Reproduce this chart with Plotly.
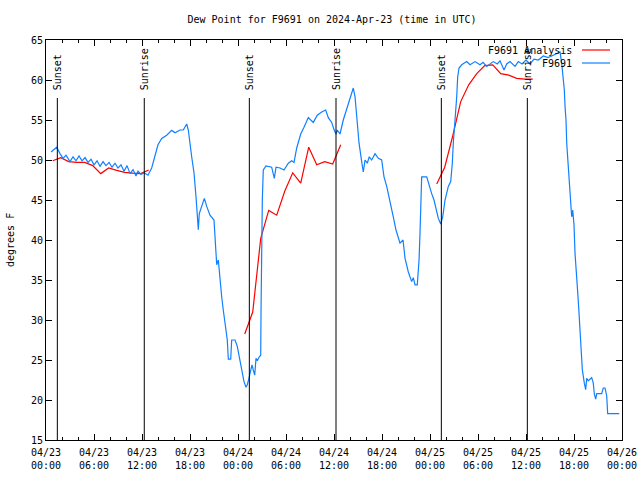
import pandas as pd
import plotly.graph_objects as go

BASE = pd.Timestamp("2024-04-23 00:00")

# F9691 observations (hours after 2024-04-23 00:00 UTC, dew point degF)
obs_hours = [0.63,1.34,1.75,2.13,2.5,3.0,3.38,3.75,4.13,4.5,4.88,5.25,5.63,6.0,6.38,6.75,7.13,7.5,7.88,8.25,
             8.63,9.0,9.38,9.75,10.13,10.5,10.88,11.25,11.5,11.88,12.25,12.75,13.21,13.63,14.0,14.46,15.09,15.71,
             16.13,16.75,17.16,17.59,17.79,18.21,18.5,18.75,18.91,19.04,19.16,19.46,19.79,20.09,20.5,21.0,21.25,
             21.34,21.54,21.75,21.96,22.16,22.46,22.66,22.79,23.09,23.21,23.63,23.91,24.25,24.46,24.75,25.0,25.16,
             25.34,25.5,25.75,25.91,26.09,26.25,26.41,26.66,26.84,26.88,26.96,27.04,27.16,27.5,28.21,28.54,28.75,
             29.25,29.75,30.29,30.71,31.0,31.34,31.84,32.25,32.79,33.41,33.91,34.46,34.96,35.29,35.71,36.0,36.25,
             36.41,36.75,37.16,37.66,38.09,38.41,38.63,38.84,39.13,39.46,39.66,39.88,40.16,40.41,40.71,41.13,41.54,
             41.96,42.25,42.59,43.0,43.41,43.75,44.25,44.63,44.88,45.29,45.71,45.91,46.13,46.41,46.63,46.75,46.84,
             46.88,46.96,47.59,47.79,48.21,48.5,48.84,49.04,49.34,49.46,49.59,49.88,50.29,50.59,50.79,50.91,51.13,
             51.34,51.46,51.63,51.96,52.59,53.0,53.63,54.25,54.63,55.09,55.5,55.91,56.41,56.75,57.25,57.59,58.0,
             58.63,59.04,59.5,60.0,60.5,61.0,61.54,62.16,62.75,63.41,63.84,64.25,64.46,64.66,64.79,64.88,65.0,
             65.09,65.29,65.5,65.71,65.84,66.0,66.13,66.25,66.34,66.46,66.59,66.75,66.88,67.04,67.29,67.46,67.59,
             67.79,68.21,68.41,68.54,68.71,68.84,69.46,69.66,69.88,70.09,70.21,71.66]
obs_vals = [51.0,51.6,50.8,50.2,50.6,49.8,50.4,49.9,50.5,49.9,50.3,49.7,50.1,49.4,49.9,49.2,49.8,49.3,49.7,49.1,
            49.6,49.0,49.4,48.6,49.3,48.3,48.8,48.0,48.6,48.2,48.4,48.1,49.0,50.4,51.9,52.7,53.1,53.7,
            53.4,53.75,53.75,54.5,53.75,50.4,48.4,45.4,42.9,41.3,43.3,44.2,45.2,44.2,43.1,42.5,38.1,
            36.9,37.5,35.0,32.9,31.25,28.75,27.5,25.1,25.1,27.5,27.5,26.7,25.0,23.75,22.3,21.6,21.9,
            22.6,23.3,24.4,23.75,23.1,25.2,24.9,25.4,25.6,31.25,40.0,45.0,48.75,49.25,49.1,47.7,49.1,
            49.0,48.75,49.6,49.9,49.7,51.5,53.25,54.1,55.3,54.7,55.6,56.0,56.25,55.3,54.7,53.8,53.25,
            53.75,53.25,55.0,56.7,58.1,59.0,57.9,55.0,52.1,49.8,48.5,50.0,49.6,50.4,50.0,50.8,50.2,
            50.0,47.9,46.7,44.6,42.9,41.25,39.6,40.0,37.7,36.0,34.8,35.3,34.4,34.4,37.5,40.8,45.0,
            47.7,47.9,47.9,47.1,45.8,45.0,43.75,42.7,42.0,42.5,42.9,45.0,46.7,47.3,49.6,52.1,54.6,
            57.9,60.4,61.5,61.9,62.3,61.9,62.3,61.9,62.2,61.7,62.0,62.3,62.0,62.4,61.25,62.0,62.3,
            61.7,62.3,62.0,62.5,62.0,62.6,62.5,63.0,62.8,63.1,63.3,63.5,62.1,60.4,58.75,56.7,55.0,
            52.1,48.75,45.4,42.9,43.75,41.9,38.3,36.0,35.0,33.5,31.5,28.75,25.5,23.8,22.1,21.3,22.7,
            22.4,22.8,22.1,20.75,20.1,20.8,20.8,21.5,21.5,20.5,18.3,18.3]

# F9691 Analysis (hourly, three separate runs)
ana_hours_1 = [0.84,1.84,2.84,3.84,4.84,5.84,6.84,7.84,8.84,9.84,10.84,11.84,12.84]
ana_vals_1 = [49.9,50.3,49.8,49.7,49.7,49.3,48.3,49.0,48.7,48.45,48.35,48.3,48.75]
ana_hours_2 = [24.84,25.84,26.84,27.84,28.84,29.84,30.84,31.84,32.84,33.84,34.84,35.84,36.84]
ana_vals_2 = [28.25,31.0,40.2,43.7,43.1,46.1,48.4,47.1,51.6,49.4,49.8,49.5,51.9]
ana_hours_3 = [48.84,49.84,50.84,51.84,52.84,53.84,54.84,55.84,56.84,57.84,58.84,59.84,60.84]
ana_vals_3 = [47.0,49.1,53.0,57.3,59.4,60.8,61.8,61.9,60.8,60.6,60.2,60.1,60.1]

sun_times = ["2024-04-23 01:25", "2024-04-23 12:17", "2024-04-24 01:25",
             "2024-04-24 12:15", "2024-04-25 01:25", "2024-04-25 12:10"]
sun_labels = ["Sunset", "Sunrise", "Sunset", "Sunrise", "Sunset", "Sunrise"]

title_text = "Dew Point for F9691 on 2024-Apr-23 (time in UTC)"
y_label = "degrees F"
legend_names = ["F9691 Analysis", "F9691"]

RED = "#ff0000"
BLUE = "#1080ff"
FONT = "DejaVu Sans Mono"


def to_time(hours):
    return BASE + pd.to_timedelta(hours, unit="h")


fig = go.Figure()
for hrs, vals in [(ana_hours_1, ana_vals_1), (ana_hours_2, ana_vals_2), (ana_hours_3, ana_vals_3)]:
    fig.add_trace(go.Scatter(x=to_time(hrs), y=vals, mode="lines",
                             line=dict(color=RED, width=1.2), showlegend=False, hoverinfo="skip"))
fig.add_trace(go.Scatter(x=to_time(obs_hours), y=obs_vals, mode="lines",
                         line=dict(color=BLUE, width=1.2), showlegend=False, hoverinfo="skip"))

for t, lab in zip(sun_times, sun_labels):
    fig.add_shape(type="line", xref="x", yref="y", x0=t, x1=t, y0=15, y1=57.75,
                  line=dict(color="black", width=1))
    fig.add_annotation(x=t, y=58.5, xref="x", yref="y", text=lab, textangle=-90,
                       showarrow=False, xanchor="center", yanchor="bottom",
                       font=dict(family=FONT, size=10, color="black"))

# manual legend (text right-aligned, sample on right as in reference)
W, H = 576.0, 400.0
for i, (name, col) in enumerate(zip(legend_names, [RED, BLUE])):
    ypx = 50 + 13 * i
    yp = (440 - ypx) / H
    fig.add_annotation(xref="paper", yref="paper", x=(574 - 46) / W, y=yp, text=name,
                       showarrow=False, xanchor="right", yanchor="middle",
                       font=dict(family=FONT, size=10, color="black"))
    fig.add_shape(type="line", xref="paper", yref="paper", x0=(582 - 46) / W, x1=(610 - 46) / W,
                  y0=yp, y1=yp, line=dict(color=col, width=1.2))

fig.add_annotation(xref="paper", yref="paper", x=(10 - 46) / W, y=0.5, text=y_label,
                   textangle=-90, showarrow=False, xanchor="center", yanchor="middle",
                   font=dict(family=FONT, size=10, color="black"))

fig.update_layout(
    width=640, height=480,
    margin=dict(l=46, r=18, t=40, b=40, autoexpand=False),
    paper_bgcolor="white", plot_bgcolor="white",
    font=dict(family=FONT, size=10, color="black"),
    title=dict(text=title_text, x=332 / 640, xref="container", xanchor="center",
               y=1 - 19 / 480, yref="container", yanchor="middle",
               font=dict(family=FONT, size=10, color="black")),
    showlegend=False,
)
fig.update_xaxes(
    type="date", range=["2024-04-23 00:00", "2024-04-26 00:00"], automargin=False,
    tick0="2024-04-23 00:00", dtick=6 * 3600 * 1000, tickformat="%m/%d<br>%H:%M",
    ticks="inside", ticklen=6, tickcolor="black", tickwidth=1, ticklabelstandoff=3,
    minor=dict(dtick=2 * 3600 * 1000, ticks="inside", ticklen=3, tickcolor="black"),
    showline=True, linecolor="black", linewidth=1, mirror="ticks",
    showgrid=False, zeroline=False,
    tickfont=dict(family=FONT, size=10, color="black"),
)
fig.update_yaxes(
    range=[15, 65], tick0=15, dtick=5, automargin=False,
    ticks="inside", ticklen=6, tickcolor="black", tickwidth=1,
    showline=True, linecolor="black", linewidth=1, mirror="ticks",
    showgrid=False, zeroline=False,
    tickfont=dict(family=FONT, size=10, color="black"),
)

fig.write_html("out.html", config={"displayModeBar": False},
               post_script="document.body.style.margin='0';document.body.style.overflow='hidden';")
